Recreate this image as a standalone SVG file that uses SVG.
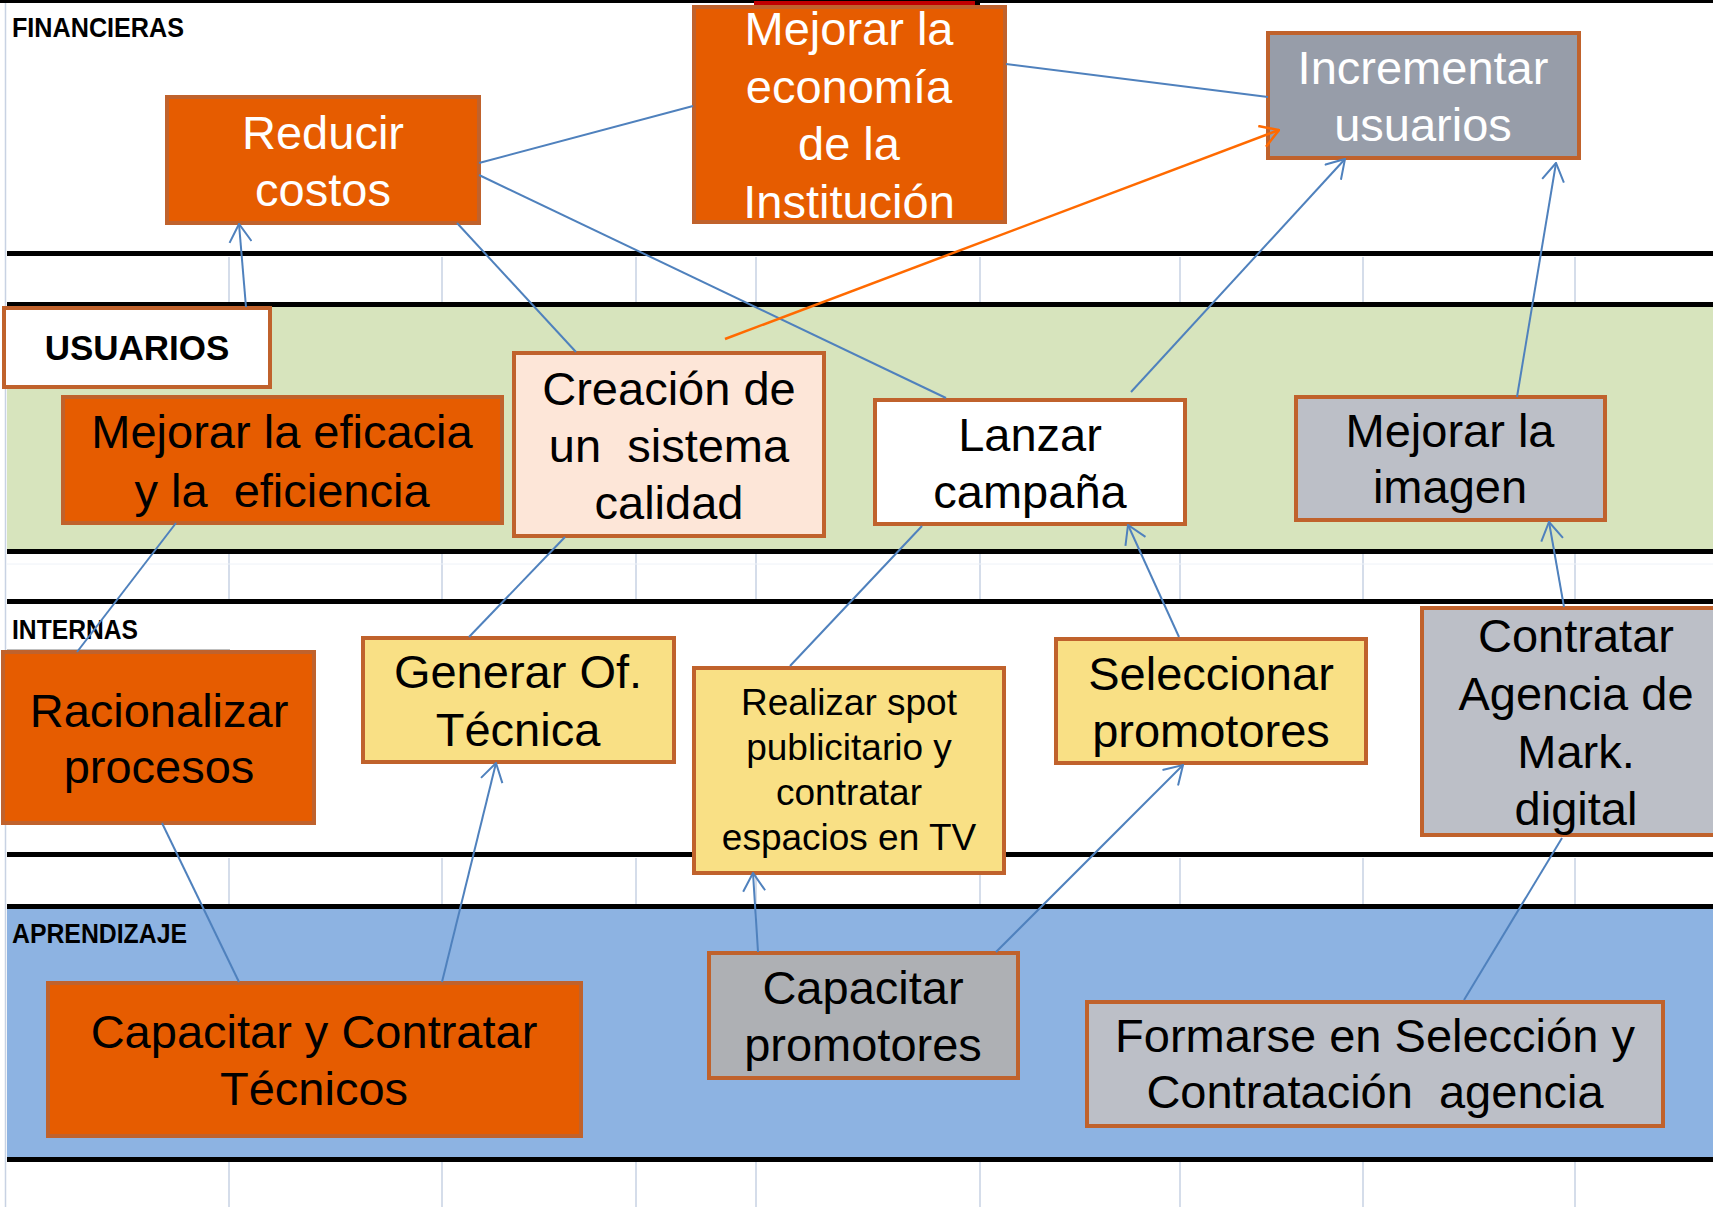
<svg xmlns="http://www.w3.org/2000/svg" width="1713" height="1207" viewBox="0 0 1713 1207">
<style>
.band-line{fill:#000}
.grid{stroke:#C8D2E3;stroke-width:1.5}
.box{stroke:#C0622C;stroke-width:4}
.org{fill:#E65C00}
.yel{fill:#F9E085}
.peach{fill:#FDE6D8}
.wht{fill:#FFFFFF}
.gry{fill:#BCBFC7}
.gry2{fill:#979DA9}
.gry3{fill:#AEB0B4}
.t{font-family:"Liberation Sans",Arial,sans-serif;font-size:47px;text-anchor:middle;fill:#000}
.tw{fill:#FFFFFF}
.ts{font-size:37px}
.lbl{font-family:"Liberation Sans",Arial,sans-serif;font-weight:bold;font-size:27px;fill:#000}
.c{stroke:#4F81BD;stroke-width:2;fill:none}
.co{stroke:#FF6A00;stroke-width:2.5;fill:none}
</style>
<defs>
<marker id="ab" markerUnits="userSpaceOnUse" markerWidth="22" markerHeight="24" viewBox="0 0 22 24" refX="21" refY="12" orient="auto">
<path d="M3,1 L21,12 L3,23" fill="none" stroke="#4F81BD" stroke-width="2"/>
</marker>
<marker id="ao" markerUnits="userSpaceOnUse" markerWidth="22" markerHeight="24" viewBox="0 0 22 24" refX="21" refY="12" orient="auto">
<path d="M3,1 L21,12 L3,23" fill="none" stroke="#FF6A00" stroke-width="2.5"/>
</marker>
</defs>
<rect x="0" y="0" width="1713" height="1207" fill="#FFFFFF"/>
<g id="background">
<rect x="7" y="307" width="1706" height="242" fill="#D7E4BD"/>
<rect x="7" y="909" width="1706" height="248" fill="#8DB3E2"/>
<line x1="5.5" y1="0" x2="5.5" y2="1207" class="grid"/>
<g class="grid">
<path d="M229,257V302M442,257V302M636,257V302M756,257V302M980,257V302M1180,257V302M1363,257V302M1575,257V302"/>
<path d="M229,554V599M442,554V599M636,554V599M756,554V599M980,554V599M1180,554V599M1363,554V599M1575,554V599"/>
<path d="M229,858V904M442,858V904M636,858V904M756,858V904M980,858V904M1180,858V904M1363,858V904M1575,858V904"/>
<path d="M229,1162V1207M442,1162V1207M636,1162V1207M756,1162V1207M980,1162V1207M1180,1162V1207M1363,1162V1207M1575,1162V1207"/>
</g>
<line x1="7" y1="564" x2="1713" y2="564" stroke="#EEF2F8" stroke-width="1"/>
<rect class="band-line" x="0" y="0" width="1713" height="3"/>
<rect class="band-line" x="7" y="251" width="1706" height="5"/>
<rect class="band-line" x="7" y="302" width="1706" height="5"/>
<rect class="band-line" x="7" y="549" width="1706" height="5"/>
<rect class="band-line" x="7" y="599" width="1706" height="5"/>
<rect class="band-line" x="7" y="852" width="1706" height="5"/>
<rect class="band-line" x="7" y="904" width="1706" height="5"/>
<rect class="band-line" x="7" y="1157" width="1706" height="5"/>
<rect x="754" y="1" width="221" height="7" fill="#C00000"/>
<rect x="975" y="1" width="5" height="7" fill="#000"/>
<line x1="7" y1="651" x2="230" y2="651" stroke="#000" stroke-width="2.5"/>
<text class="lbl" x="12" y="37" textLength="172" lengthAdjust="spacingAndGlyphs">FINANCIERAS</text>
<text class="lbl" x="12" y="639" textLength="126" lengthAdjust="spacingAndGlyphs">INTERNAS</text>
<text class="lbl" x="12" y="943" textLength="175" lengthAdjust="spacingAndGlyphs">APRENDIZAJE</text>
</g>
<g id="n-reducir"><rect class="box org" x="167" y="97" width="312" height="126"/><text class="t tw" x="323"><tspan x="323" y="149">Reducir</tspan><tspan x="323" y="206">costos</tspan></text></g>
<g id="n-economia"><rect class="box org" x="694" y="7" width="311" height="215"/><text class="t tw"><tspan x="849" y="45">Mejorar la</tspan><tspan x="849" y="103">economía</tspan><tspan x="849" y="160">de la</tspan><tspan x="849" y="218">Institución</tspan></text></g>
<g id="n-incrementar"><rect class="box gry2" x="1268" y="33" width="311" height="125"/><text class="t tw"><tspan x="1423" y="84">Incrementar</tspan><tspan x="1423" y="141">usuarios</tspan></text></g>
<g id="n-usuarios"><rect class="box wht" x="4" y="308" width="266" height="79"/><text class="t" x="137" y="360" style="font-weight:bold;font-size:35px">USUARIOS</text></g>
<g id="n-eficacia"><rect class="box org" x="63" y="397" width="439" height="126"/><text class="t"><tspan x="282" y="448">Mejorar la eficacia</tspan><tspan x="282" y="507" xml:space="preserve">y la  eficiencia</tspan></text></g>
<g id="n-creacion"><rect class="box peach" x="514" y="353" width="310" height="183"/><text class="t"><tspan x="669" y="405">Creación de</tspan><tspan x="669" y="462" xml:space="preserve">un  sistema</tspan><tspan x="669" y="519">calidad</tspan></text></g>
<g id="n-lanzar"><rect class="box wht" x="875" y="400" width="310" height="124"/><text class="t"><tspan x="1030" y="451">Lanzar</tspan><tspan x="1030" y="508">campaña</tspan></text></g>
<g id="n-imagen"><rect class="box gry" x="1296" y="397" width="309" height="123"/><text class="t"><tspan x="1450" y="447">Mejorar la</tspan><tspan x="1450" y="503">imagen</tspan></text></g>
<g id="n-racionalizar"><rect class="box org" x="3" y="652" width="311" height="171"/><text class="t"><tspan x="159" y="727">Racionalizar</tspan><tspan x="159" y="783">procesos</tspan></text></g>
<g id="n-generar"><rect class="box yel" x="363" y="638" width="311" height="124"/><text class="t"><tspan x="518" y="688">Generar Of.</tspan><tspan x="518" y="746">Técnica</tspan></text></g>
<g id="n-spot"><rect class="box yel" x="694" y="668" width="310" height="205"/><text class="t ts"><tspan x="849" y="715">Realizar spot</tspan><tspan x="849" y="760">publicitario y</tspan><tspan x="849" y="805">contratar</tspan><tspan x="849" y="850">espacios en TV</tspan></text></g>
<g id="n-seleccionar"><rect class="box yel" x="1056" y="639" width="310" height="124"/><text class="t"><tspan x="1211" y="690">Seleccionar</tspan><tspan x="1211" y="747">promotores</tspan></text></g>
<g id="n-agencia"><rect class="box gry" x="1422" y="608" width="320" height="227"/><text class="t"><tspan x="1576" y="652">Contratar</tspan><tspan x="1576" y="710">Agencia de</tspan><tspan x="1576" y="768">Mark.</tspan><tspan x="1576" y="825">digital</tspan></text></g>
<g id="n-capacitar-tecnicos"><rect class="box org" x="48" y="983" width="533" height="153"/><text class="t"><tspan x="314" y="1048">Capacitar y Contratar</tspan><tspan x="314" y="1105">Técnicos</tspan></text></g>
<g id="n-capacitar-promotores"><rect class="box gry3" x="709" y="953" width="309" height="125"/><text class="t"><tspan x="863" y="1004">Capacitar</tspan><tspan x="863" y="1061">promotores</tspan></text></g>
<g id="n-formarse"><rect class="box gry" x="1087" y="1002" width="576" height="124"/><text class="t"><tspan x="1375" y="1052">Formarse en Selección y</tspan><tspan x="1375" y="1108" xml:space="preserve">Contratación  agencia</tspan></text></g>
<g id="connectors">
<path class="c" d="M479,163 L693,106"/>
<path class="c" d="M1006,64 L1268,97"/>
<path class="c" d="M479,175 L946,398"/>
<path class="c" d="M576,352 L457,223"/>
<path class="c" d="M246,307 L239,224" marker-end="url(#ab)"/>
<path class="co" d="M725,339 L1279,130" marker-end="url(#ao)"/>
<path class="c" d="M1131,392 L1345,159" marker-end="url(#ab)"/>
<path class="c" d="M1517,397 L1556,163" marker-end="url(#ab)"/>
<path class="c" d="M176,523 L77,652"/>
<path class="c" d="M565,537 L469,637"/>
<path class="c" d="M162,823 L239,982"/>
<path class="c" d="M442,982 L496,763" marker-end="url(#ab)"/>
<path class="c" d="M922,526 L790,666"/>
<path class="c" d="M1179,637 L1128,525" marker-end="url(#ab)"/>
<path class="c" d="M1564,607 L1549,522" marker-end="url(#ab)"/>
<path class="c" d="M758,952 L753,873" marker-end="url(#ab)"/>
<path class="c" d="M996,952 L1183,765" marker-end="url(#ab)"/>
<path class="c" d="M1464,1000 L1562,838"/>
</g>
</svg>
